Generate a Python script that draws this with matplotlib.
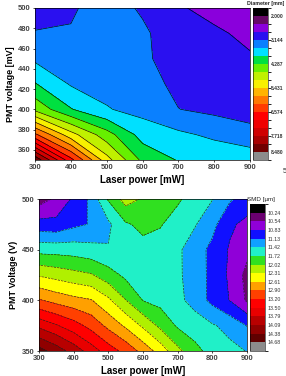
import numpy as np
import matplotlib
matplotlib.use("Agg")
import matplotlib.pyplot as plt
from matplotlib.colors import ListedColormap, BoundaryNorm

plt.rcParams['font.family'] = ['Liberation Sans', 'DejaVu Sans']

# ---------------- data: top panel (droplet diameter, mm) ----------------
power_top = [300, 400, 500, 600, 700, 800, 900]
volt_top = [350, 375, 400, 425, 450, 475, 500]
diam_350 = [8.40, 6.70, 5.20, 4.20, 3.88, 3.80, 3.75]
diam_375 = [6.27, 5.20, 4.45, 3.75, 3.60, 3.45, 3.30]
diam_400 = [4.57, 3.93, 3.55, 3.40, 3.15, 3.05, 2.95]
diam_425 = [3.93, 3.49, 3.40, 3.30, 3.05, 2.95, 2.90]
diam_450 = [3.455, 3.30, 3.30, 3.22, 2.95, 2.90, 2.80]
diam_475 = [3.17, 3.17, 3.30, 3.20, 2.95, 2.82, 2.68]
diam_500 = [2.95, 3.10, 3.30, 3.10, 2.80, 2.65, 2.45]
top_tick_vals = [2.000, 3.144, 4.287, 5.431, 6.574, 7.718, 8.480]
top_tick_labels = ["2.000", "3.144", "4.287", "5.431", "6.574", "7.718", "8.480"]

# ---------------- data: bottom panel (SMD, um) ----------------
power_bot = [300, 350, 400, 450, 500, 550, 600, 650, 700, 750, 800, 850, 900]
volt_bot = [350, 375, 400, 425, 450, 475, 500]
smd_350 = [14.50, 14.25, 13.96, 13.65, 13.35, 13.10, 12.80, 12.48, 12.10, 11.80, 11.62, 11.50, 11.41]
smd_375 = [13.72, 13.53, 13.33, 13.10, 12.82, 12.56, 12.26, 11.95, 11.68, 11.58, 11.45, 11.33, 11.12]
smd_400 = [12.93, 12.80, 12.70, 12.63, 12.37, 12.03, 11.71, 11.62, 11.50, 11.30, 11.05, 10.82, 10.50]
smd_425 = [12.28, 12.20, 12.12, 12.05, 11.85, 11.65, 11.60, 11.55, 11.47, 11.28, 11.05, 10.78, 10.45]
smd_450 = [11.61, 11.60, 11.58, 11.52, 11.44, 11.55, 11.62, 11.60, 11.47, 11.27, 11.05, 10.80, 10.62]
smd_475 = [10.94, 10.92, 11.06, 11.15, 11.36, 11.68, 11.80, 11.74, 11.60, 11.44, 11.22, 10.88, 10.75]
smd_500 = [10.40, 10.60, 10.88, 11.20, 11.75, 12.15, 11.98, 11.90, 11.76, 11.60, 11.43, 11.17, 11.00]
bot_tick_vals = [10.24, 10.54, 10.83, 11.13, 11.42, 11.72, 12.02, 12.31, 12.61,
                 12.90, 13.20, 13.50, 13.79, 14.09, 14.38, 14.68]
bot_tick_labels = ["10.24", "10.54", "10.83", "11.13", "11.42", "11.72", "12.02", "12.31",
                   "12.61", "12.90", "13.20", "13.50", "13.79", "14.09", "14.38", "14.68"]

# ---------------- colours ----------------
top_colors = ["#000000", "#660a66", "#8a00dc", "#2a10f0", "#0a80ff", "#00e0ff", "#00e040",
              "#66f000", "#c0f000", "#f8f000", "#ffb400", "#ff7800", "#ff3c00", "#ff0000",
              "#f00000", "#d00000", "#a80000", "#700000", "#8c8c8c"]
bot_colors = ["#000000", "#6a0070", "#9000d8", "#1010ff", "#10a0ff", "#20f0c8", "#30e020",
              "#b0f000", "#ffff00", "#ffa000", "#ff4000", "#ff0000", "#e80000", "#b80000",
              "#900000", "#600000", "#8c8c8c"]

W, H = 286, 376
fig = plt.figure(figsize=(W / 100, H / 100), dpi=100)

def box(l, t, r, b):
    return [l / W, 1 - b / H, (r - l) / W, (b - t) / H]

# ---------------- top panel ----------------
Zt = np.array([diam_350, diam_375, diam_400, diam_425, diam_450, diam_475, diam_500])
step = (top_tick_vals[-1] - top_tick_vals[0]) / 17
top_levels = np.concatenate([[top_tick_vals[0] - step],
                             np.linspace(top_tick_vals[0], top_tick_vals[-1], 18),
                             [top_tick_vals[-1] + step]])
cmap_t = ListedColormap(top_colors)
norm_t = BoundaryNorm(top_levels, cmap_t.N)

ax1 = fig.add_axes(box(35, 8, 250, 160))
cf1 = ax1.contourf(power_top, volt_top, Zt, levels=top_levels, cmap=cmap_t, norm=norm_t)
ax1.contour(power_top, volt_top, Zt, levels=top_levels[1:-1], colors="black",
            linewidths=0.45)
ax1.set_xlim(300, 900)
ax1.set_ylim(350, 500)
ax1.set_xticks([300, 400, 500, 600, 700, 800, 900])
ax1.set_yticks([360, 380, 400, 420, 440, 460, 480, 500])
ax1.tick_params(labelsize=5.5, length=1.5, width=0.5, pad=1.5)
for lab in ax1.get_xticklabels() + ax1.get_yticklabels():
    lab.set_fontweight("bold")
    lab.set_color("#444444")
ax1.set_xlabel("Laser power [mW]", fontsize=7, fontweight="bold", labelpad=3)
ax1.set_ylabel("PMT voltage [mV]", fontsize=6.5, fontweight="bold", labelpad=2)
for s in ax1.spines.values():
    s.set_linewidth(0.5)

cax1 = fig.add_axes(box(253, 8, 268, 160))
cb1 = fig.colorbar(cf1, cax=cax1)
cb1.set_ticks(top_tick_vals, labels=top_tick_labels)
cax1.invert_yaxis()
cax1.tick_params(labelsize=3.6, length=0, pad=2)
for lab in cax1.get_yticklabels():
    lab.set_fontweight("bold")
    lab.set_color("#333333")
cb1.outline.set_linewidth(0.4)
fig.text(284 / W, 1 - 4 / H, "Diameter [mm]", fontsize=3.8, fontweight="bold",
         ha="right", va="center", color="#222222")
fig.text(283 / W, 1 - 172 / H, "5", fontsize=5, ha="left", va="center", color="#333333")

# ---------------- bottom panel ----------------
Zb = np.array([smd_350, smd_375, smd_400, smd_425, smd_450, smd_475, smd_500])
bstep = 0.30
bot_levels = np.concatenate([[bot_tick_vals[0] - bstep], bot_tick_vals,
                             [bot_tick_vals[-1] + bstep]])
cmap_b = ListedColormap(bot_colors)
norm_b = BoundaryNorm(bot_levels, cmap_b.N)

ax2 = fig.add_axes(box(39, 199, 247, 351))
cf2 = ax2.contourf(power_bot, volt_bot, Zb, levels=bot_levels, cmap=cmap_b, norm=norm_b)
ax2.contour(power_bot, volt_bot, Zb, levels=bot_levels[1:-1], colors="#222222",
            linewidths=0.45, linestyles="dashed")
ax2.set_xlim(300, 900)
ax2.set_ylim(350, 500)
ax2.set_xticks([300, 400, 500, 600, 700, 800, 900])
ax2.set_yticks([350, 400, 450, 500])
ax2.tick_params(labelsize=5.5, length=1.5, width=0.5, pad=1.5)
for lab in ax2.get_xticklabels() + ax2.get_yticklabels():
    lab.set_fontweight("bold")
    lab.set_color("#444444")
ax2.set_xlabel("Laser power [mW]", fontsize=7, fontweight="bold", labelpad=3)
ax2.set_ylabel("PMT Voltage (V)", fontsize=6.5, fontweight="bold", labelpad=3)
for s in ax2.spines.values():
    s.set_linewidth(0.5)

cax2 = fig.add_axes(box(250, 204, 265, 351))
cb2 = fig.colorbar(cf2, cax=cax2)
cb2.set_ticks(bot_tick_vals, labels=bot_tick_labels)
cax2.invert_yaxis()
cax2.tick_params(labelsize=3.8, length=0, pad=1.5)
for lab in cax2.get_yticklabels():
    lab.set_color("#333333")
cb2.outline.set_linewidth(0.4)
fig.text(247 / W, 1 - 199 / H, "SMD [\u00b5m]", fontsize=4.5, ha="left", va="center",
         color="#222222")

fig.savefig("out.png", dpi=100)
